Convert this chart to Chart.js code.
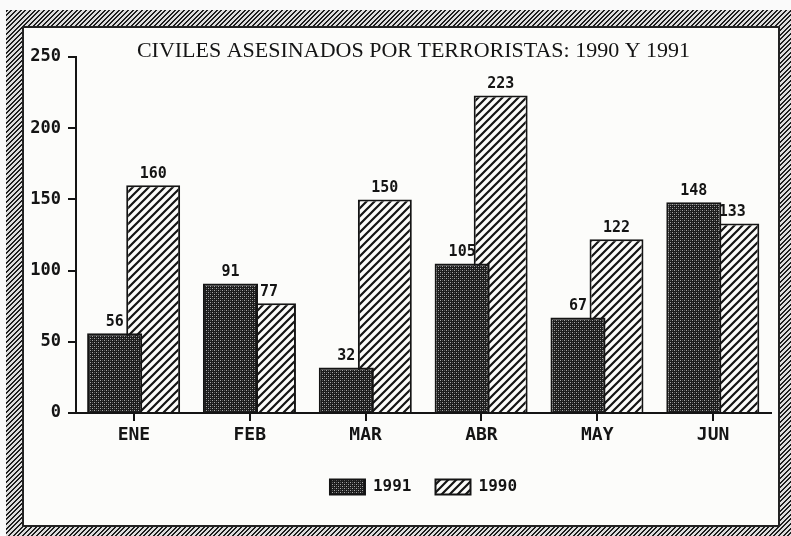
<!DOCTYPE html>
<html>
<head>
<meta charset="utf-8">
<script src="https://cdn.jsdelivr.net/npm/chart.js@4/dist/chart.umd.min.js"></script>
<style>
  html, body { margin: 0; padding: 0; background: #fafafa; }
  #pagina { position: relative; width: 791px; height: 536px; overflow: hidden; }
  #marco {
    position: absolute; left: 6px; top: 10px; width: 800px; height: 540px;
    background: repeating-linear-gradient(135deg, #1e1e1e 0 1.6px, #dcdcdc 1.6px 3.3px);
  }
  #hoja {
    position: absolute; left: 22px; top: 26px; width: 758px; height: 501px;
    box-sizing: border-box; border: 2px solid #222; background: #fcfcfa;
  }
  #grafico { position: absolute; left: 0; top: 0; }
</style>
</head>
<body>
<div id="pagina">
  <div id="marco"></div>
  <div id="hoja"></div>
  <canvas id="grafico" width="791" height="536"></canvas>
</div>
<script>
// datos
const titulo = 'CIVILES ASESINADOS POR TERRORISTAS: 1990 Y 1991';
const meses = ['ENE', 'FEB', 'MAR', 'ABR', 'MAY', 'JUN'];
const civiles1991 = [56, 91, 32, 105, 67, 148];
const civiles1990 = [160, 77, 150, 223, 122, 133];
const marcasY = [0, 50, 100, 150, 200, 250];

const tinta = '#141414';
const fuenteMono = '"DejaVu Sans Mono", "Liberation Mono", monospace';

// trama punteada oscura (1991)
function tramaOscura() {
    const c = document.createElement('canvas');
    c.width = 4; c.height = 4;
    const g = c.getContext('2d');
    g.fillStyle = '#1c1c1c';
    g.fillRect(0, 0, 4, 4);
    g.fillStyle = '#a8a8a8';
    g.fillRect(0, 0, 1, 1);
    g.fillRect(2, 2, 1, 1);
    g.fillStyle = '#585858';
    g.fillRect(2, 0, 1, 1);
    g.fillRect(0, 2, 1, 1);
    return g.createPattern(c, 'repeat');
}

// trama rayada diagonal (1990)
function tramaRayada() {
    const c = document.createElement('canvas');
    c.width = 8; c.height = 8;
    const g = c.getContext('2d');
    g.fillStyle = '#fcfcfa';
    g.fillRect(0, 0, 8, 8);
    g.strokeStyle = tinta;
    g.lineWidth = 2.2;
    g.beginPath();
    g.moveTo(-1, 9); g.lineTo(9, -1);
    g.moveTo(-1, 1); g.lineTo(1, -1);
    g.moveTo(7, 9); g.lineTo(9, 7);
    g.stroke();
    return g.createPattern(c, 'repeat');
}

// etiquetas de valor, dibujadas antes de las barras (quedan tapadas en parte)
const etiquetasValor = {
    id: 'etiquetasValor',
    beforeDatasetsDraw(chart) {
        const ctx = chart.ctx;
        ctx.save();
        ctx.font = 'bold 15px ' + fuenteMono;
        ctx.fillStyle = tinta;
        ctx.textAlign = 'center';
        ctx.textBaseline = 'bottom';
        chart.data.datasets.forEach((ds, i) => {
            chart.getDatasetMeta(i).data.forEach((barra, j) => {
                ctx.fillText(String(ds.data[j]), barra.x, barra.y - 4);
            });
        });
        ctx.restore();
    }
};

// titulo en letra con serifa
const tituloSerif = {
    id: 'tituloSerif',
    afterDraw(chart) {
        const ctx = chart.ctx;
        ctx.save();
        ctx.font = '22px "Liberation Serif", "DejaVu Serif", serif';
        ctx.fillStyle = tinta;
        ctx.textAlign = 'center';
        ctx.textBaseline = 'alphabetic';
        ctx.fillText(titulo, chart.width / 2 + 18, 57, 607);
        ctx.restore();
    }
};

new Chart(document.getElementById('grafico'), {
    type: 'bar',
    data: {
        labels: meses,
        datasets: [{
            label: '1991',
            data: civiles1991,
            backgroundColor: tramaOscura(),
            borderColor: tinta,
            borderWidth: 2,
            barPercentage: 1.43,
            categoryPercentage: 0.665
        }, {
            label: '1990',
            data: civiles1990,
            backgroundColor: tramaRayada(),
            borderColor: tinta,
            borderWidth: 2,
            barPercentage: 1.4,
            categoryPercentage: 0.665
        }]
    },
    options: {
        responsive: false,
        animation: false,
        layout: { padding: { left: 0, top: 57, right: 20, bottom: 31 } },
        scales: {
            x: {
                grid: { drawOnChartArea: false, offset: false, tickLength: 8, color: tinta, lineWidth: 2 },
                border: { color: tinta, width: 2 },
                ticks: { color: tinta, padding: 4, font: { family: fuenteMono, weight: 'bold', size: 18 } },
                afterFit(s) { s.height = 42; }
            },
            y: {
                min: 0,
                max: 250,
                afterBuildTicks(s) { s.ticks = marcasY.map(v => ({ value: v })); },
                grid: { drawOnChartArea: false, tickLength: 8, color: tinta, lineWidth: 2 },
                border: { color: tinta, width: 2 },
                ticks: { color: tinta, padding: 7, font: { family: fuenteMono, weight: 'bold', size: 17 } },
                afterFit(s) { s.width = 76; }
            }
        },
        plugins: {
            title: { display: false },
            tooltip: { enabled: false },
            legend: {
                position: 'bottom',
                fullSize: false,
                labels: {
                    boxWidth: 35,
                    boxHeight: 15,
                    padding: 24,
                    color: tinta,
                    font: { family: fuenteMono, weight: 'bold', size: 16 }
                }
            }
        }
    },
    plugins: [etiquetasValor, tituloSerif]
});
</script>
</body>
</html>
